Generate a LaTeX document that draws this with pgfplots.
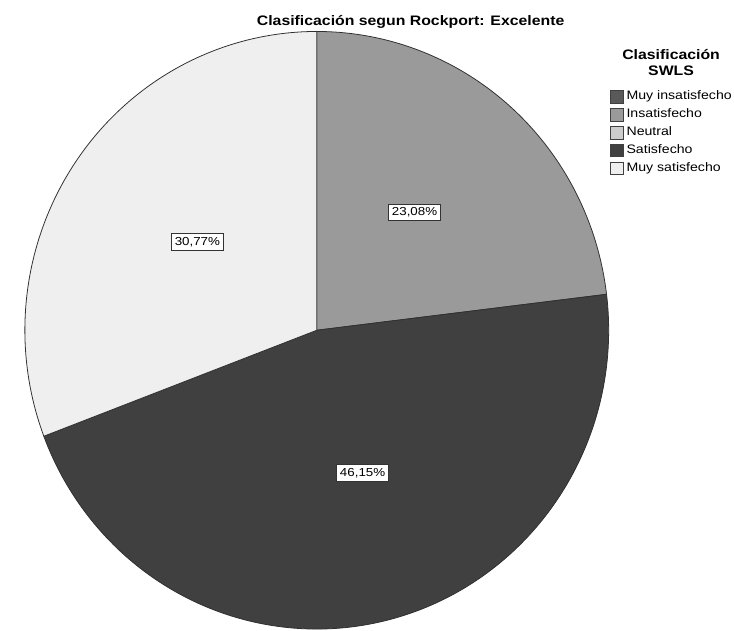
\documentclass[border=0pt]{standalone}
\usepackage{pgfplots}
\pgfplotsset{compat=1.18}
\usepackage{pgfplotstable}
\usepackage{fontspec}
\setmainfont[FakeStretch=1.15]{Liberation Sans}
\definecolor{cMI}{HTML}{595959}
\definecolor{cIns}{HTML}{9A9A9A}
\definecolor{cNeu}{HTML}{CCCCCC}
\definecolor{cSat}{HTML}{404040}
\definecolor{cMS}{HTML}{EFEFEF}
\definecolor{edge}{HTML}{303030}
\tikzset{lbl/.style={draw=black!80, fill=white, line width=0.7pt,
    font=\fontsize{11.8}{13}\selectfont, inner xsep=3.5pt, inner ysep=3pt,
    text height=9pt, text depth=2pt}}
\newcommand\legsq[1]{\addlegendimage{legend image code/.code={\draw[fill=#1,draw=black!75,line width=0.7pt] (0pt,-6.5pt) rectangle (13pt,6.5pt);}}}
\begin{document}
\pgfplotstableread{
cat pct
Insatisfecho 23.08
Satisfecho 46.15
MuySatisfecho 30.77
}\piedata
\pgfplotstablegetelem{0}{pct}\of\piedata\let\pA\pgfplotsretval
\pgfplotstablegetelem{1}{pct}\of\piedata\let\pB\pgfplotsretval
\pgfplotstablegetelem{2}{pct}\of\piedata\let\pC\pgfplotsretval
\pgfmathsetmacro\aA{90}
\pgfmathsetmacro\aB{\aA-3.6*\pA}
\pgfmathsetmacro\aC{\aB-3.6*\pB}
\pgfmathsetmacro\aD{\aC-3.6*\pC}
\begin{tikzpicture}
\path[use as bounding box] (0pt,0pt) rectangle (734pt,-641pt);
\begin{axis}[
  at={(309.5pt,-336pt)}, anchor=center,
  scale only axis, width=594pt, height=608pt,
  xmin=-1, xmax=1, ymin=-1, ymax=1,
  hide axis, clip=false,
  legend cell align=left,
  legend style={at={(1.0025,0.902)}, anchor=north west, draw=none, fill=none,
    inner sep=0pt, outer sep=0pt, font=\fontsize{12.5}{14}\selectfont,
    row sep=4.5pt, nodes={inner sep=0pt, text height=9.5pt, text depth=3.5pt},
    /tikz/every odd column/.append style={column sep=3pt}},
]
\addplot[fill=cIns, draw=edge, line width=0.8pt, line join=round, domain=\aB:\aA, samples=90, forget plot] ({cos(x)},{sin(x)}) -- (axis cs:0,0) -- cycle;
\addplot[fill=cSat, draw=edge, line width=0.8pt, line join=round, domain=\aC:\aB, samples=160, forget plot] ({cos(x)},{sin(x)}) -- (axis cs:0,0) -- cycle;
\addplot[fill=cMS, draw=edge, line width=0.8pt, line join=round, domain=\aD:\aC, samples=110, forget plot] ({cos(x)},{sin(x)}) -- (axis cs:0,0) -- cycle;
\legsq{cMI}\addlegendentry{Muy insatisfecho}
\legsq{cIns}\addlegendentry{Insatisfecho}
\legsq{cNeu}\addlegendentry{Neutral}
\legsq{cSat}\addlegendentry{Satisfecho}
\legsq{cMS}\addlegendentry{Muy satisfecho}
\node[lbl] at (axis cs:0.335,0.395) {23,08\%};
\node[lbl] at (axis cs:-0.409,0.296) {30,77\%};
\node[lbl] at (axis cs:0.157,-0.477) {46,15\%};
\end{axis}
\node[anchor=base, inner sep=0pt, font=\bfseries\fontsize{14}{16}\selectfont] at (405pt,-26pt) {Clasificación segun Rockport: Excelente};
\node[anchor=base, inner sep=0pt, font=\bfseries\fontsize{14}{16}\selectfont] at (670pt,-61pt) {Clasificación};
\node[anchor=base, inner sep=0pt, font=\bfseries\fontsize{14}{16}\selectfont] at (670pt,-77pt) {SWLS};
\end{tikzpicture}
\end{document}
